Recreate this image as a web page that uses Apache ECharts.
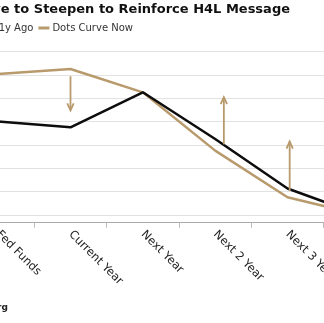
<!DOCTYPE html>
<html>
<head>
<meta charset="utf-8">
<script src="https://cdn.jsdelivr.net/npm/echarts@6/dist/echarts.min.js"></script>
<style>
  html, body { margin: 0; padding: 0; background: #fff; overflow: hidden; width: 324px; height: 323px; }
  #chart { position: absolute; left: -80px; top: 0; width: 484px; height: 323px; }
</style>
</head>
<body>
<div id="chart"></div>
<script>
// Fed dot-plot medians by horizon
const categories = ['Fed Funds', 'Current Year', 'Next Year', 'Next 2 Year', 'Next 3 Year', 'Longer Run'];
const dotsYearAgo = [4.5, 4.375, 5.125, 4.125, 3.0625, 2.5];
const dotsNow = [5.52, 5.625, 5.125, 3.875, 2.875, 2.5];

// Gridline values for the rate axis
const rateTicks = [2.5, 3, 3.5, 4, 4.5, 5, 5.5, 6];

// Annotation arrows: horizon position, start rate, end rate
const arrowPos = [1, 3.12, 4.03];
const arrowFrom = [5.47, 4.01, 3.01];
const arrowTo = [4.74, 5.02, 4.07];

const TAN = '#b89a6c';
const BLACK = '#0d0d0d';
const FONT = '"DejaVu Sans", Verdana, sans-serif';

const chart = echarts.init(document.getElementById('chart'), null, { renderer: 'canvas' });

const arrowData = arrowPos.map((x, i) => [x, arrowFrom[i], arrowTo[i]]);

chart.setOption({
  animation: false,
  backgroundColor: '#fff',
  title: [
    {
      text: 'Dots Curve to Steepen to Reinforce H4L Message',
      right: 114,
      top: 3,
      padding: 0,
      textStyle: { fontFamily: FONT, fontSize: 13, fontWeight: 'bold', color: '#111' }
    },
    {
      text: 'Source: Bloomberg',
      right: 396,
      top: 303,
      padding: 0,
      textStyle: { fontFamily: FONT, fontSize: 9, fontWeight: 'bold', color: '#222' }
    }
  ],
  legend: {
    data: ['Dots Curve 1y Ago', 'Dots Curve Now'],
    right: 271,
    top: 23,
    padding: 0,
    icon: 'rect',
    itemWidth: 11,
    itemHeight: 3,
    itemGap: 5,
    textStyle: { fontFamily: FONT, fontSize: 10, color: '#333', padding: [0, 0, 0, -2] }
  },
  grid: { left: 42, right: 8, top: 51.5, bottom: 100.3, containLabel: false, outerBoundsMode: 'none' },
  xAxis: [
    {
      type: 'category',
      data: categories,
      boundaryGap: true,
      axisLine: { lineStyle: { color: '#aaa', width: 1 } },
      axisTick: { show: true, length: 5, lineStyle: { color: '#bbb' } },
      axisLabel: {
        rotate: -45,
        margin: 10,
        fontFamily: FONT,
        fontSize: 11.5,
        color: '#222',
        interval: 0
      },
      splitLine: { show: false }
    },
    {
      // hidden continuous twin of the horizon axis, used to place the arrows
      type: 'value',
      min: -0.5,
      max: 5.5,
      show: false
    }
  ],
  yAxis: {
    type: 'value',
    min: 2.33,
    max: 6,
    axisLine: { show: false },
    axisTick: { show: false, customValues: rateTicks },
    axisLabel: { customValues: rateTicks, fontFamily: FONT, fontSize: 10, color: '#333' },
    splitLine: { show: true, lineStyle: { color: '#e2e2e2', width: 1 } }
  },
  series: [
    {
      name: 'Dots Curve Now',
      type: 'line',
      data: dotsNow,
      symbol: 'none',
      z: 2,
      lineStyle: { color: TAN, width: 2.5 },
      itemStyle: { color: TAN }
    },
    {
      name: 'Dots Curve 1y Ago',
      type: 'line',
      data: dotsYearAgo,
      symbol: 'none',
      z: 3,
      lineStyle: { color: BLACK, width: 2.5 },
      itemStyle: { color: BLACK }
    },
    {
      name: 'arrows',
      type: 'custom',
      xAxisIndex: 1,
      z: 4,
      silent: true,
      data: arrowData,
      renderItem: function (params, api) {
        const p0 = api.coord([api.value(0), api.value(1)]);
        const p1 = api.coord([api.value(0), api.value(2)]);
        const dir = p1[1] > p0[1] ? 1 : -1;
        const headLen = 7, headHalf = 3.2;
        return {
          type: 'group',
          children: [
            {
              type: 'line',
              shape: { x1: p0[0], y1: p0[1], x2: p1[0], y2: p1[1] },
              style: { stroke: TAN, lineWidth: 1.8 }
            },
            {
              type: 'polyline',
              shape: {
                points: [
                  [p1[0] - headHalf, p1[1] - dir * headLen],
                  [p1[0], p1[1]],
                  [p1[0] + headHalf, p1[1] - dir * headLen]
                ]
              },
              style: { stroke: TAN, lineWidth: 1.8, fill: null }
            }
          ]
        };
      }
    }
  ]
});
</script>
</body>
</html>
